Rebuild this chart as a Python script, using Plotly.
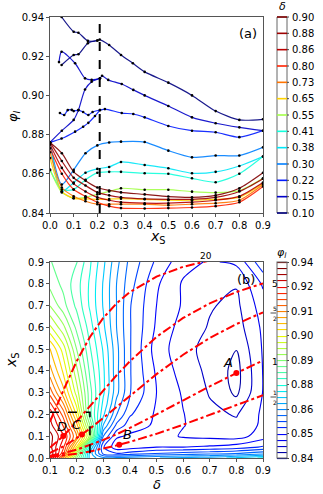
import plotly.graph_objects as go

W, H = 323, 494

# ---------------- data: panel (a) ----------------
delta_levels = [0.10, 0.15, 0.22, 0.30, 0.38, 0.41, 0.55, 0.65, 0.73, 0.80, 0.86, 0.88, 0.90]

# blue curves (irregular sampling)
xs_d010 = [0.049, 0.10, 0.12, 0.16, 0.20, 0.21, 0.25, 0.30, 0.35, 0.40, 0.50, 0.60, 0.70, 0.80, 0.90]
phi_d010 = [0.940, 0.9325, 0.932, 0.9278, 0.928, 0.9285, 0.9257, 0.9206, 0.9164, 0.912, 0.9065, 0.900, 0.892, 0.8875, 0.8878]
xs_d010b = [0.049, 0.10, 0.12, 0.16, 0.20]
phi_d010b = [0.9155, 0.9206, 0.921, 0.9266, 0.928]

xs_d015 = [0.038, 0.049, 0.106, 0.148, 0.176, 0.211, 0.22, 0.246, 0.303, 0.352, 0.40, 0.50, 0.60, 0.70, 0.80, 0.90]
phi_d015 = [0.917, 0.9223, 0.9164, 0.9087, 0.9079, 0.9087, 0.910, 0.9079, 0.9058, 0.9028, 0.900, 0.8946, 0.8888, 0.8858, 0.8837, 0.882]
xs_d015b = [0.0, 0.05, 0.10, 0.12, 0.148, 0.176, 0.211]
phi_d015b = [0.876, 0.882, 0.8875, 0.8925, 0.903, 0.907, 0.9087]

xs_d022 = [0.042, 0.06, 0.075, 0.092, 0.10, 0.12, 0.14, 0.162, 0.18, 0.211, 0.232, 0.303, 0.352, 0.40, 0.50, 0.60, 0.70, 0.80, 0.90]
phi_d022 = [0.891, 0.890, 0.8925, 0.8926, 0.892, 0.8925, 0.8915, 0.890, 0.8915, 0.8925, 0.893, 0.891, 0.8905, 0.8888, 0.8844, 0.882, 0.8812, 0.8787, 0.882]
xs_d022b = [0.0, 0.049, 0.106, 0.14, 0.162, 0.19, 0.211]
phi_d022b = [0.876, 0.878, 0.8815, 0.884, 0.886, 0.8895, 0.8925]

# remaining curves on a common x_S grid
xs_common = [0.0, 0.05, 0.1, 0.15, 0.2, 0.25, 0.3, 0.4, 0.5, 0.6, 0.7, 0.8, 0.9]
phi_d030 = [0.876, 0.8545, 0.862, 0.8705, 0.8745, 0.876, 0.8764, 0.8762, 0.8718, 0.8684, 0.8693, 0.8693, 0.8735]
phi_d038 = [0.876, 0.851, 0.8555, 0.8605, 0.8625, 0.8635, 0.866, 0.8645, 0.8628, 0.8603, 0.861, 0.864, 0.8688]
phi_d041 = [0.862, 0.852, 0.852, 0.857, 0.8605, 0.861, 0.861, 0.8603, 0.860, 0.8577, 0.8557, 0.860, 0.8688]
phi_d055 = [0.862, 0.8505, 0.8475, 0.848, 0.8495, 0.851, 0.8526, 0.8519, 0.8519, 0.8509, 0.8504, 0.8514, 0.8577]
phi_d065 = [0.868, 0.851, 0.8475, 0.8472, 0.847, 0.8471, 0.8473, 0.847, 0.8465, 0.8465, 0.847, 0.848, 0.855]
phi_d073 = [0.871, 0.853, 0.8485, 0.846, 0.8445, 0.8445, 0.8445, 0.8445, 0.844, 0.8445, 0.845, 0.8465, 0.8545]
phi_d080 = [0.873, 0.860, 0.852, 0.8485, 0.8455, 0.8435, 0.8425, 0.8423, 0.8425, 0.8428, 0.8435, 0.8455, 0.8535]
phi_d086 = [0.875, 0.863, 0.855, 0.851, 0.848, 0.8465, 0.8455, 0.845, 0.845, 0.8455, 0.8465, 0.8485, 0.8555]
phi_d088 = [0.876, 0.8665, 0.858, 0.854, 0.8505, 0.849, 0.848, 0.8472, 0.847, 0.847, 0.848, 0.851, 0.8575]
phi_d090 = [0.876, 0.8705, 0.861, 0.8565, 0.853, 0.8515, 0.8505, 0.8495, 0.8484, 0.848, 0.849, 0.8526, 0.8605]

xs_marker_line = 0.21

# ---------------- data: panel (b) ----------------
delta_grid = [0.1, 0.15, 0.2, 0.25, 0.3, 0.35, 0.4, 0.5, 0.6, 0.7, 0.8, 0.9]
xs_grid = [0.0, 0.02, 0.05, 0.1, 0.15, 0.2, 0.3, 0.4, 0.5, 0.6, 0.7, 0.8, 0.9]
phi_grid = [
    [0.935, 0.915, 0.890, 0.870, 0.866, 0.866, 0.867, 0.868, 0.869, 0.870, 0.872, 0.875],
    [0.937, 0.922, 0.895, 0.870, 0.858, 0.856, 0.857, 0.859, 0.860, 0.861, 0.862, 0.864],
    [0.935, 0.925, 0.905, 0.875, 0.856, 0.8505, 0.851, 0.8525, 0.8525, 0.853, 0.854, 0.856],
    [0.935, 0.928, 0.915, 0.895, 0.862, 0.853, 0.852, 0.851, 0.849, 0.8485, 0.848, 0.851],
    [0.932, 0.924, 0.910, 0.890, 0.868, 0.858, 0.854, 0.852, 0.8495, 0.848, 0.847, 0.850],
    [0.930, 0.920, 0.905, 0.885, 0.872, 0.862, 0.856, 0.852, 0.8495, 0.847, 0.846, 0.850],
    [0.920, 0.910, 0.898, 0.885, 0.875, 0.866, 0.859, 0.8525, 0.849, 0.846, 0.8425, 0.8495],
    [0.913, 0.905, 0.894, 0.883, 0.875, 0.866, 0.859, 0.852, 0.848, 0.8455, 0.842, 0.8495],
    [0.909, 0.901, 0.890, 0.881, 0.874, 0.866, 0.859, 0.851, 0.8475, 0.845, 0.8432, 0.8497],
    [0.900, 0.894, 0.886, 0.879, 0.872, 0.865, 0.859, 0.852, 0.848, 0.846, 0.8448, 0.850],
    [0.893, 0.888, 0.883, 0.877, 0.871, 0.865, 0.859, 0.8525, 0.849, 0.8465, 0.8455, 0.851],
    [0.889, 0.886, 0.882, 0.877, 0.871, 0.865, 0.860, 0.853, 0.849, 0.847, 0.8465, 0.853],
    [0.887, 0.886, 0.884, 0.878, 0.872, 0.866, 0.861, 0.855, 0.8505, 0.849, 0.850, 0.858],
]
phi_levels_ticks = ["0.84", "0.85", "0.86", "0.88", "0.89", "0.90", "0.91", "0.92", "0.94"]

ratio_delta = [0.1, 0.15, 0.2, 0.25, 0.3, 0.35, 0.4, 0.5, 0.6, 0.7, 0.8, 0.9]
xs_ratio_half = [0.005, 0.011, 0.020, 0.030, 0.043, 0.058, 0.074, 0.111, 0.153, 0.197, 0.242, 0.288]
xs_ratio_1 = [0.010, 0.022, 0.038, 0.059, 0.083, 0.109, 0.138, 0.200, 0.265, 0.329, 0.390, 0.448]
xs_ratio_5half = [0.024, 0.053, 0.091, 0.135, 0.184, 0.234, 0.286, 0.385, 0.474, 0.551, 0.615, 0.669]
xs_ratio_5 = [0.048, 0.101, 0.167, 0.238, 0.310, 0.380, 0.444, 0.556, 0.643, 0.710, 0.762, 0.802]
ratio20_delta = [0.1, 0.15, 0.2, 0.25, 0.3, 0.35, 0.4, 0.5, 0.6, 0.7]
xs_ratio_20 = [0.167, 0.310, 0.444, 0.556, 0.643, 0.710, 0.762, 0.833, 0.878, 0.907]

point_labels = ["A", "B", "C", "D"]
point_delta = [0.80, 0.36, 0.22, 0.15]
point_xs = [0.39, 0.061, 0.108, 0.101]

box_delta = 0.25
box_xs = 0.21

# ---------------- helpers ----------------
JET = [(0.0, (0, 0, 0.5)), (0.11, (0, 0, 1)), (0.125, (0, 0, 1)), (0.34, (0, 0.86, 1)),
       (0.35, (0, 0.9, 0.97)), (0.375, (0.036, 1, 0.903)), (0.64, (0.886, 1, 0.032)),
       (0.65, (0.935, 0.963, 0)), (0.66, (1, 0.926, 0)), (0.89, (1, 0.074, 0)),
       (0.91, (0.909, 0, 0)), (1.0, (0.5, 0, 0))]


def jet(t):
    t = min(max(t, 0), 1)
    for (a, ca), (b, cb) in zip(JET[:-1], JET[1:]):
        if a <= t <= b:
            f = 0 if b == a else (t - a) / (b - a)
            c = [ca[i] + f * (cb[i] - ca[i]) for i in range(3)]
            return "rgb(%d,%d,%d)" % tuple(round(255 * v) for v in c)
    return "rgb(128,0,0)"


jet_scale = [[a, jet(a)] for a, _ in JET]


def dcol(d):
    return jet((d - 0.10) / 0.80)


FONT = "DejaVu Sans"
fig = go.Figure()

# ---------------- panel (a) ----------------
curves = [
    (0.10, xs_d010, phi_d010), (0.10, xs_d010b, phi_d010b),
    (0.15, xs_d015, phi_d015), (0.15, xs_d015b, phi_d015b),
    (0.22, xs_d022, phi_d022), (0.22, xs_d022b, phi_d022b),
    (0.30, xs_common, phi_d030), (0.38, xs_common, phi_d038), (0.41, xs_common, phi_d041),
    (0.55, xs_common, phi_d055), (0.65, xs_common, phi_d065), (0.73, xs_common, phi_d073),
    (0.80, xs_common, phi_d080), (0.86, xs_common, phi_d086), (0.88, xs_common, phi_d088),
    (0.90, xs_common, phi_d090),
]
for d, xs, ys in curves:
    fig.add_trace(go.Scatter(x=xs, y=ys, mode="lines", line=dict(color=dcol(d), width=1.2, shape="spline", smoothing=0.7),
                             opacity=0.9, showlegend=False, hoverinfo="skip", xaxis="x", yaxis="y"))
for d, xs, ys in curves:
    fig.add_trace(go.Scatter(x=xs, y=ys, mode="markers", marker=dict(color="black", size=2.6),
                             showlegend=False, hoverinfo="skip", xaxis="x", yaxis="y"))

fig.add_trace(go.Scatter(x=[xs_marker_line, xs_marker_line], y=[0.84, 0.94], mode="lines",
                         line=dict(color="black", width=2, dash="dash"), showlegend=False, xaxis="x", yaxis="y"))

# ---------------- panel (b) ----------------
fig.add_trace(go.Contour(
    x=delta_grid, y=xs_grid, z=phi_grid, xaxis="x2", yaxis="y2",
    contours=dict(start=0.84, end=0.94, size=0.003125, coloring="lines"),
    colorscale=jet_scale, zmin=0.84, zmax=0.94, line=dict(width=1.1, smoothing=1.0),
    colorbar=dict(x=277 / W, xanchor="left", xpad=0, ypad=0, thickness=10, thicknessmode="pixels",
                  len=196 / H, lenmode="fraction", y=1 - 360 / H, yanchor="middle",
                  tickvals=[0.84 + 4 * k * 0.003125 for k in range(9)], ticktext=phi_levels_ticks,
                  ticks="outside", ticklen=2, tickfont=dict(family=FONT, size=10, color="black"),
                  outlinewidth=1, outlinecolor="#666"),
    hoverinfo="skip", showscale=True))

rstyle = dict(color="red", width=2, dash="dashdot")
for xs in [xs_ratio_half, xs_ratio_1, xs_ratio_5half, xs_ratio_5]:
    fig.add_trace(go.Scatter(x=ratio_delta, y=xs, mode="lines", line=rstyle, showlegend=False,
                             xaxis="x2", yaxis="y2", hoverinfo="skip"))
fig.add_trace(go.Scatter(x=ratio20_delta, y=xs_ratio_20, mode="lines", line=rstyle, showlegend=False,
                         xaxis="x2", yaxis="y2", hoverinfo="skip"))

fig.add_trace(go.Scatter(x=[0.1, box_delta, box_delta], y=[box_xs, box_xs, 0], mode="lines",
                         line=dict(color="black", width=1.6, dash="dash"), showlegend=False,
                         xaxis="x2", yaxis="y2"))

fig.add_trace(go.Scatter(x=point_delta, y=point_xs, mode="markers", marker=dict(color="red", size=6),
                         showlegend=False, xaxis="x2", yaxis="y2"))

# ---------------- layout ----------------
axis_common = dict(showline=True, mirror=True, linecolor="#555", linewidth=1, ticks="outside", ticklen=3,
                   tickcolor="#555", showgrid=False, zeroline=False, automargin=False,
                   tickfont=dict(family=FONT, size=10, color="black"))
xdom = [50 / W, 263 / W]
fig.update_layout(
    width=W, height=H, autosize=False, margin=dict(l=0, r=0, t=0, b=0, autoexpand=False),
    paper_bgcolor="white", plot_bgcolor="white", showlegend=False,
    xaxis=dict(domain=xdom, range=[0, 0.9], tickvals=[i / 10 for i in range(10)],
               ticktext=["%.1f" % (i / 10) for i in range(10)], anchor="y", **axis_common),
    yaxis=dict(domain=[1 - 213 / H, 1 - 17 / H], range=[0.84, 0.94], tickvals=[0.84, 0.86, 0.88, 0.90, 0.92, 0.94],
               ticktext=["0.84", "0.86", "0.88", "0.90", "0.92", "0.94"], anchor="x", **axis_common),
    xaxis2=dict(domain=xdom, range=[0.1, 0.9], tickvals=[0.1 + i / 10 for i in range(9)],
                ticktext=["%.1f" % (0.1 + i / 10) for i in range(9)], anchor="y2", **axis_common),
    yaxis2=dict(domain=[1 - 458 / H, 1 - 262 / H], range=[0, 0.9], tickvals=[i / 10 for i in range(10)],
                ticktext=["%.1f" % (i / 10) for i in range(10)], anchor="x2", **axis_common),
)

ann = []
shapes = []


def pa(x, y, text, size=10, xanchor="center", yanchor="middle", textangle=0, color="black"):
    ann.append(dict(x=x / W, y=1 - y / H, xref="paper", yref="paper", text=text, showarrow=False,
                    font=dict(family=FONT, size=size, color=color), xanchor=xanchor, yanchor=yanchor,
                    textangle=textangle))


# axis titles
pa(158, 237, "<i>x</i><sub>S</sub>", size=14)
pa(13, 116, "<i>φ<sub>l</sub></i>", size=13, textangle=-90)
pa(157, 484, "<i>δ</i>", size=13)
pa(12, 360, "<i>x</i><sub>S</sub>", size=14, textangle=-90)
pa(248, 33, "(a)", size=13)
pa(246, 279, "(b)", size=13)
pa(282, 7, "<i>δ</i>", size=11)
pa(282, 253, "<i>φ<sub>l</sub></i>", size=11)

# ratio labels
pa(206, 256, "20", size=9)
pa(270, 284, "5", size=9, xanchor="left")
pa(270, 362, "1", size=9, xanchor="left")
pa(271, 308, "5", size=6, xanchor="left")
pa(271, 318, "2", size=6, xanchor="left")
pa(271, 392, "1", size=6, xanchor="left")
pa(271, 402, "2", size=6, xanchor="left")
for yy in (313, 397):
    shapes.append(dict(type="line", xref="paper", yref="paper", x0=270.5 / W, x1=276 / W,
                       y0=1 - yy / H, y1=1 - yy / H, line=dict(color="black", width=0.7)))

# point labels
offs = {"A": (-0.03, 0.05), "B": (0.03, 0.045), "C": (-0.02, 0.045), "D": (-0.005, 0.045)}
for lab, d, xs in zip(point_labels, point_delta, point_xs):
    dx, dy = offs[lab]
    ann.append(dict(x=d + dx, y=xs + dy, xref="x2", yref="y2", text="<i>%s</i>" % lab, showarrow=False,
                    font=dict(family=FONT, size=13, color="black")))

# top colorbar (discrete δ levels drawn as lines)
cb_x0, cb_x1 = 277 / W, 287 / W
cb_top, cb_bot = 17, 213
shapes.append(dict(type="rect", xref="paper", yref="paper", x0=cb_x0, x1=cb_x1, y0=1 - cb_bot / H,
                   y1=1 - cb_top / H, line=dict(color="#666", width=1), fillcolor="white", layer="below"))
n = len(delta_levels)
for i, d in enumerate(delta_levels):
    yy = cb_bot - i * (cb_bot - cb_top) / (n - 1)
    shapes.append(dict(type="line", xref="paper", yref="paper", x0=cb_x0, x1=cb_x1, y0=1 - yy / H,
                       y1=1 - yy / H, line=dict(color=dcol(d), width=1.6)))
    shapes.append(dict(type="line", xref="paper", yref="paper", x0=cb_x1, x1=cb_x1 + 2 / W, y0=1 - yy / H,
                       y1=1 - yy / H, line=dict(color="#444", width=1)))
    pa(290, yy, "%.2f" % d, size=10, xanchor="left")

fig.update_layout(annotations=ann, shapes=shapes)
fig.write_html("out.html", config={"displayModeBar": False, "staticPlot": True},
               post_script="document.body.style.margin='0';document.body.style.overflow='hidden';")
